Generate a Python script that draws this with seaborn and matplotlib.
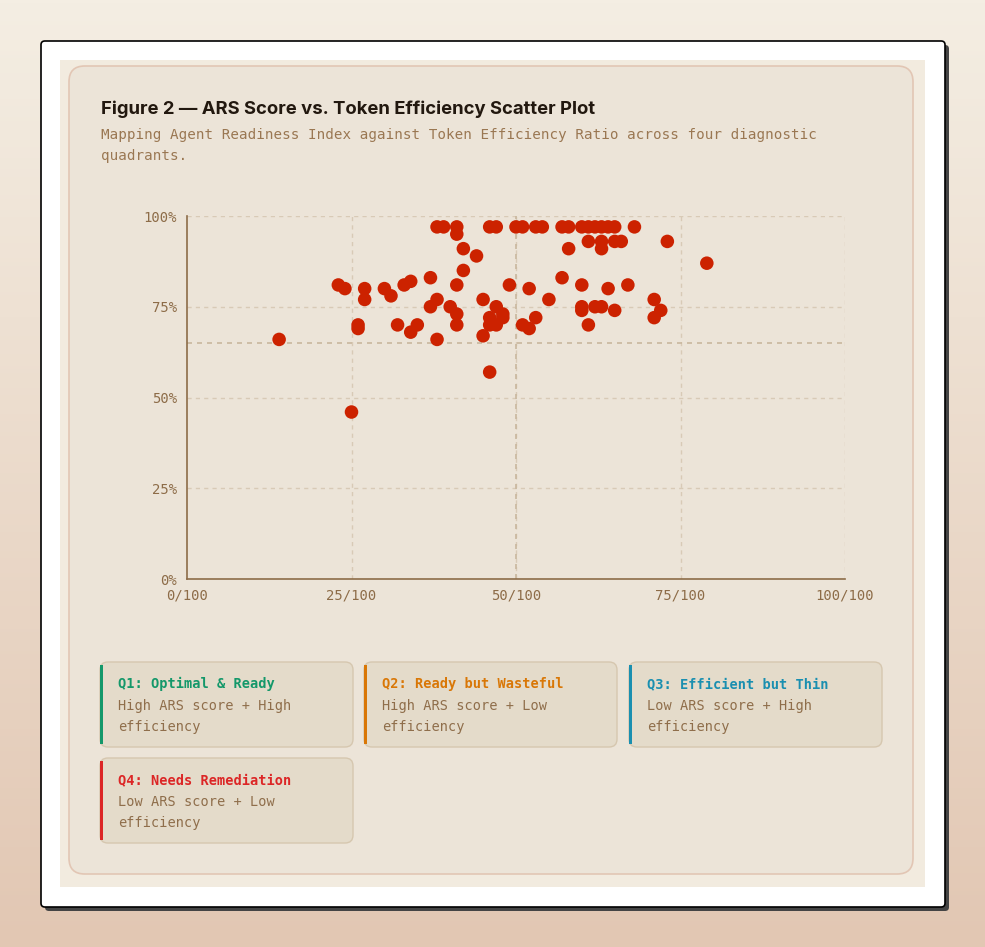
import numpy as np
import matplotlib
matplotlib.use("Agg")
import matplotlib.pyplot as plt
import seaborn as sns
import pandas as pd
from matplotlib.patches import FancyBboxPatch, Rectangle

# --- Donnees ---
ars_score = [14, 23, 24, 25, 26, 26, 27, 27, 30, 31, 32, 33, 34, 34, 35, 37, 37, 38, 38, 38,
             39, 40, 41, 41, 41, 41, 41, 42, 42, 44, 45, 45, 46, 46, 46, 46, 47, 47, 47, 48,
             48, 49, 50, 51, 51, 52, 52, 53, 53, 54, 55, 57, 57, 58, 58, 60, 60, 60, 60, 61,
             61, 61, 62, 62, 63, 63, 63, 63, 64, 64, 65, 65, 65, 66, 67, 68, 71, 71, 72, 73, 79]
token_eff = [66, 81, 80, 46, 70, 69, 80, 77, 80, 78, 70, 81, 82, 68, 70, 83, 75, 77, 66, 97,
             97, 75, 97, 95, 81, 73, 70, 91, 85, 89, 77, 67, 57, 97, 72, 70, 97, 75, 70, 73,
             72, 81, 97, 97, 70, 80, 69, 97, 72, 97, 77, 97, 83, 97, 91, 97, 81, 75, 74, 97,
             93, 70, 97, 75, 97, 93, 91, 75, 97, 80, 97, 93, 74, 93, 81, 97, 77, 72, 74, 93, 87]

x_ticks = [0, 25, 50, 75, 100]
x_tick_labels = ["0/100", "25/100", "50/100", "75/100", "100/100"]
y_ticks = [0, 25, 50, 75, 100]
y_tick_labels = ["0%", "25%", "50%", "75%", "100%"]
ars_threshold = 50
eff_threshold = 65

quadrant_titles = ["Q1: Optimal & Ready", "Q2: Ready but Wasteful",
                   "Q3: Efficient but Thin", "Q4: Needs Remediation"]
quadrant_desc = ["High ARS score + High\nefficiency", "High ARS score + Low\nefficiency",
                 "Low ARS score + High\nefficiency", "Low ARS score + Low\nefficiency"]
quadrant_colors = ["#14986a", "#d97706", "#1a8fb0", "#dc2626"]

TITLE = "Figure 2 \u2014 ARS Score vs. Token Efficiency Scatter Plot"
SUBTITLE = ("Mapping Agent Readiness Index against Token Efficiency Ratio across four diagnostic\n"
            "quadrants.")

# --- Couleurs ---
BROWN = "#8d6c48"
GRID = "#d8cab6"
QUAD = "#c9b79e"
DOT = "#cc2200"
CARD = "#ece4d8"
MONO = "DejaVu Sans Mono"

sns.set_theme(style="white")
plt.rcParams["font.family"] = ["DejaVu Sans"]

W, H = 985, 947
fig = plt.figure(figsize=(W / 100, H / 100), dpi=100)


def fx(px):
    return px / W


def fy(py):
    return 1 - py / H


# fond degrade
bg = fig.add_axes([0, 0, 1, 1], zorder=-10)
grad = np.linspace(0, 1, 256)[:, None]
top = np.array([0xf4, 0xee, 0xe3]) / 255
bot = np.array([0xe2, 0xc7, 0xb3]) / 255
img = top[None, None, :] * (1 - grad[:, :, None]) + bot[None, None, :] * grad[:, :, None]
bg.imshow(img, aspect="auto", extent=[0, 1, 0, 1], origin="upper")
bg.set_axis_off()

# ombre + carte blanche
fig.patches.append(FancyBboxPatch((fx(45), fy(911)), fx(904), 866 / H,
                                  boxstyle="round,pad=0,rounding_size=0.004",
                                  transform=fig.transFigure, fc="#444444", ec="none", zorder=-5))
fig.patches.append(FancyBboxPatch((fx(41), fy(907)), fx(904), 866 / H,
                                  boxstyle="round,pad=0,rounding_size=0.004",
                                  transform=fig.transFigure, fc="white", ec="black", lw=1.2, zorder=-4))
fig.patches.append(Rectangle((fx(60), fy(887)), fx(865), 827 / H,
                             transform=fig.transFigure, fc="#f2ebdf", ec="none", zorder=-3))
fig.patches.append(FancyBboxPatch((fx(69), fy(874)), fx(844), 808 / H,
                                  boxstyle="round,pad=0,rounding_size=0.016",
                                  mutation_aspect=W / H,
                                  transform=fig.transFigure, fc=CARD, ec="#e2c6b4", lw=1.2, zorder=-2))

# titres
fig.text(fx(101), fy(109), TITLE, fontsize=13.3, fontweight="bold", color="#22180f",
         family=["Inter", "DejaVu Sans"], va="center", ha="left")
fig.text(fx(101), fy(128), SUBTITLE, fontsize=10.3, color="#9a7752", family=MONO,
         va="top", ha="left", linespacing=1.6)

# --- Nuage de points ---
df = pd.DataFrame({"ars": ars_score, "eff": token_eff})
ax = fig.add_axes([fx(187), fy(579), fx(845) - fx(187), fy(216) - fy(579)])
ax.set_facecolor("none")
sns.scatterplot(data=df, x="ars", y="eff", ax=ax, color=DOT, s=95, edgecolor="none",
                linewidth=0, alpha=1, zorder=5, clip_on=False)
ax.set_xlim(0, 100)
ax.set_ylim(0, 100)
ax.set_xticks(x_ticks)
ax.set_xticklabels(x_tick_labels)
ax.set_yticks(y_ticks)
ax.set_yticklabels(y_tick_labels)
ax.set_xlabel("")
ax.set_ylabel("")
for v in x_ticks[1:]:
    ax.axvline(v, color=GRID, lw=1, ls=(0, (3, 3)), zorder=1)
for v in y_ticks[1:]:
    ax.axhline(v, color=GRID, lw=1, ls=(0, (3, 3)), zorder=1)
ax.axvline(ars_threshold, color=QUAD, lw=1.2, ls=(0, (3, 3)), zorder=2)
ax.axhline(eff_threshold, color=QUAD, lw=1.2, ls=(0, (3, 3)), zorder=2)
for side in ["top", "right"]:
    ax.spines[side].set_visible(False)
for side in ["left", "bottom"]:
    ax.spines[side].set_color(BROWN)
    ax.spines[side].set_linewidth(1.2)
ax.tick_params(axis="both", colors=BROWN, length=5, width=1.2, labelsize=10, pad=2)
for lab in ax.get_xticklabels() + ax.get_yticklabels():
    lab.set_family(MONO)
    lab.set_color(BROWN)

# --- Cartes de legende des quadrants ---
boxes = [(100, 662), (364, 662), (629, 662), (100, 758)]
bw, bh = 253, 85
for (bx, by), ttl, desc, col in zip(boxes, quadrant_titles, quadrant_desc, quadrant_colors):
    fig.patches.append(FancyBboxPatch((fx(bx), fy(by + bh)), fx(bw), bh / H,
                                      boxstyle="round,pad=0,rounding_size=0.008",
                                      mutation_aspect=W / H,
                                      transform=fig.transFigure, fc="#e4dbca", ec="#d6c7af",
                                      lw=1, zorder=1))
    fig.patches.append(Rectangle((fx(bx), fy(by + bh - 3)), fx(2.5), (bh - 6) / H,
                                 transform=fig.transFigure, fc=col, ec="none", zorder=2))
    fig.text(fx(bx + 18), fy(by + 22), ttl, fontsize=9.8, fontweight="bold", color=col,
             family=MONO, va="center", ha="left", zorder=3)
    fig.text(fx(bx + 18), fy(by + 37), desc, fontsize=9.8, color="#8f6e4b",
             family=MONO, va="top", ha="left", linespacing=1.6, zorder=3)

fig.savefig("out.png", dpi=100)
